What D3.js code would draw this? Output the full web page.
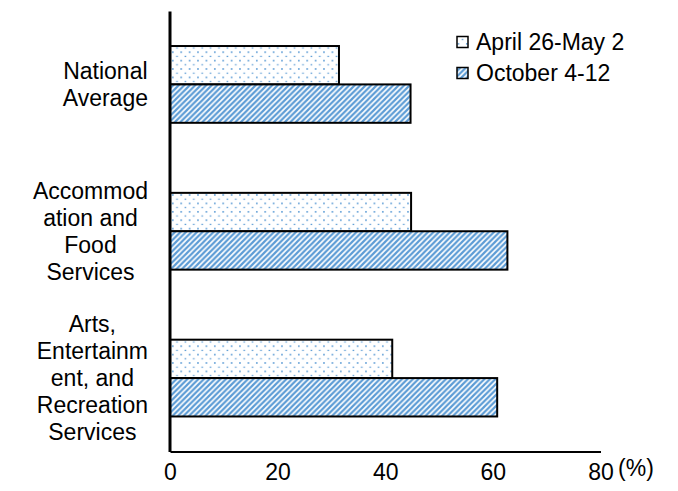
<!DOCTYPE html>
<html>
<head>
<meta charset="utf-8">
<script src="https://cdn.jsdelivr.net/npm/d3@7"></script>
<style>
  html, body { margin: 0; padding: 0; background: #fff; }
  svg { display: block; }
  text { font-family: "Liberation Sans", Arial, sans-serif; fill: #000; }
</style>
</head>
<body>
<svg id="chart" width="678" height="491"></svg>
<script>
// ---- data ----
const categories = ["National Average", "Accommodation and Food Services", "Arts, Entertainment, and Recreation Services"];
const categoryLines = [
  ["National", "Average"],
  ["Accommod", "ation and", "Food", "Services"],
  ["Arts,", "Entertainm", "ent, and", "Recreation", "Services"]
];
const seriesNames = ["April 26-May 2", "October 4-12"];
const aprilValues = [31.4, 44.8, 41.3];
const octoberValues = [44.7, 62.7, 60.8];
const xTicks = [0, 20, 40, 60, 80];
const unitLabel = "(%)";

// ---- setup ----
const svg = d3.select("#chart");
const blue = "#5B9BD5";
const fontSize = 23;

const defs = svg.append("defs");
// dotted pattern
const pd = defs.append("pattern").attr("id", "dots").attr("patternUnits", "userSpaceOnUse")
  .attr("width", 8.4).attr("height", 8.4).attr("x", 171).attr("y", 0);
pd.append("rect").attr("width", 8.4).attr("height", 8.4).attr("fill", "#fff");
pd.append("rect").attr("x", 1).attr("y", 1).attr("width", 1.6).attr("height", 1.6).attr("fill", blue);
pd.append("rect").attr("x", 5.2).attr("y", 5.4).attr("width", 1.6).attr("height", 1.2).attr("fill", blue);
// diagonal stripe pattern (upward diagonal)
const ps = defs.append("pattern").attr("id", "stripes").attr("patternUnits", "userSpaceOnUse")
  .attr("width", 5.5).attr("height", 5.5);
ps.append("rect").attr("width", 5.5).attr("height", 5.5).attr("fill", "#fff");
ps.append("path").attr("d", "M-1.375,1.375 L1.375,-1.375 M0,5.5 L5.5,0 M4.125,6.875 L6.875,4.125")
  .attr("stroke", blue).attr("stroke-width", 2.2);

const fills = ["url(#dots)", "url(#stripes)"];

const x = d3.scaleLinear().domain([0, 80]).range([170, 600.5]);
const y = d3.scaleBand().domain(categories).range([11, 451.5])
  .paddingInner(0.477).paddingOuter(0.2385);
const ySub = d3.scaleBand().domain(seriesNames).range([0, y.bandwidth()]);

const data = categories.map((c, i) => ({
  cat: c,
  vals: [aprilValues[i], octoberValues[i]]
}));

// bars
const g = svg.append("g");
data.forEach(d => {
  d.vals.forEach((v, j) => {
    g.append("rect")
      .attr("x", x(0))
      .attr("y", y(d.cat) + ySub(seriesNames[j]))
      .attr("width", x(v) - x(0))
      .attr("height", ySub.bandwidth())
      .attr("fill", fills[j])
      .attr("stroke", "#000")
      .attr("stroke-width", 2);
  });
});

// x axis
const xAxis = d3.axisBottom(x).tickValues(xTicks).tickSize(0).tickPadding(12);
const xa = svg.append("g").attr("transform", "translate(0,451.5)").call(xAxis);
xa.select(".domain").attr("stroke", "#000").attr("stroke-width", 2);
xa.selectAll("text").attr("font-size", fontSize).attr("font-family", "Liberation Sans, Arial, sans-serif").attr("fill", "#000");
svg.append("text").attr("x", 636).attr("y", 476).attr("text-anchor", "middle")
  .attr("font-size", fontSize).text(unitLabel);

// y axis line
const yAxis = d3.axisLeft(y).tickSize(0).tickFormat("");
const ya = svg.append("g").attr("transform", "translate(169.5,0)").call(yAxis);
ya.select(".domain").attr("stroke", "#000").attr("stroke-width", 3);

// category labels (right-aligned block, centered lines)
const lineH = 27;
const rightEdge = 148;
categories.forEach((c, i) => {
  const lines = categoryLines[i];
  const t = svg.append("text").attr("font-size", fontSize).attr("text-anchor", "middle");
  const cy = y(c) + y.bandwidth() / 2;
  const startY = cy - (lines.length - 1) * lineH / 2 + fontSize * 0.35;
  const spans = lines.map((l, k) => t.append("tspan").attr("y", startY + k * lineH).text(l));
  let maxW = 0;
  spans.forEach(s => { maxW = Math.max(maxW, s.node().getComputedTextLength()); });
  spans.forEach(s => s.attr("x", rightEdge - maxW / 2));
});

// legend
const legendY = [42, 73];
seriesNames.forEach((n, j) => {
  svg.append("rect").attr("x", 457).attr("y", legendY[j] - 5.5).attr("width", 11).attr("height", 11)
    .attr("fill", fills[j]).attr("stroke", "#000").attr("stroke-width", 1.5);
  svg.append("text").attr("x", 476).attr("y", legendY[j] + 8).attr("font-size", fontSize).text(n);
});
</script>
</body>
</html>
